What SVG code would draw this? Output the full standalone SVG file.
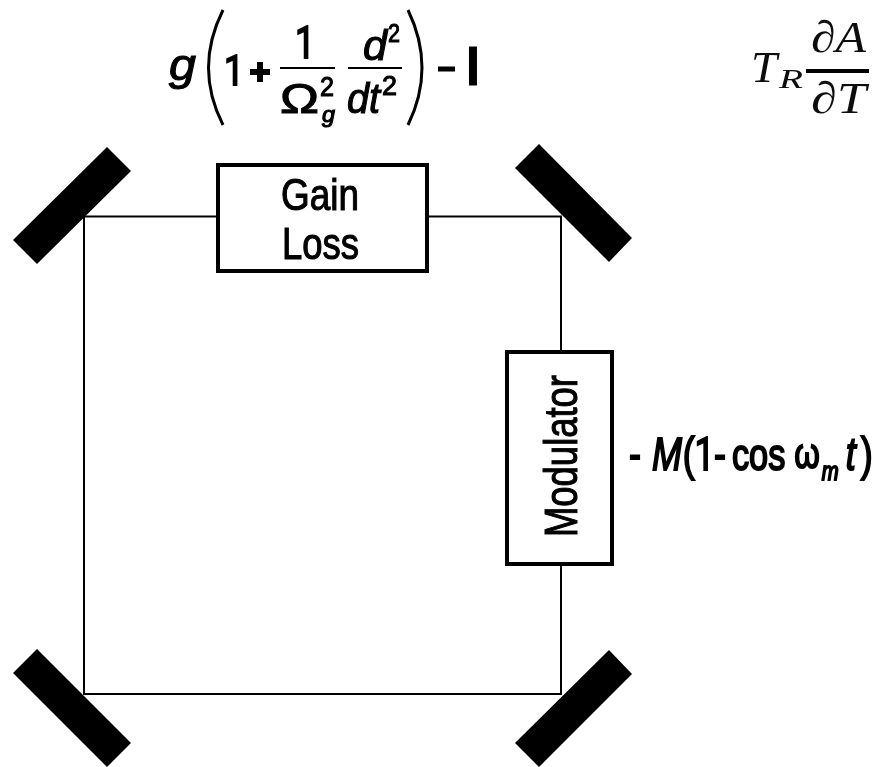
<svg xmlns="http://www.w3.org/2000/svg" width="876" height="767" viewBox="0 0 876 767">
<defs><filter id="soft" x="-5%" y="-5%" width="110%" height="110%"><feGaussianBlur stdDeviation="0.6"/></filter></defs>
<style>
.l{stroke:#000;stroke-width:2;fill:none}
.b{stroke:#000;stroke-width:4;fill:#fff}
.t{font-family:"Liberation Sans",Arial,sans-serif;fill:#000;stroke:#000;stroke-width:1.1;filter:url(#soft)}
.o{font-family:Roboto,"Liberation Sans",sans-serif;stroke-width:1.8}
.h{stroke-width:1.9}
.i{font-style:italic}
.m{fill:#000}
.n{fill:#000;stroke:none}
.s{font-family:"Liberation Serif","Times New Roman",serif;fill:#111;font-style:italic;filter:url(#soft)}
</style>
<rect width="876" height="767" fill="#fff"/>
<g id="connectors">
<path class="l" d="M84 216.500H218M428 216.500H561V351M561 565V694H84V216"/>
</g>
<g id="mirror-tl"><polygon class="m" points="107,147 131,171 37,264 13,240"/></g>
<g id="mirror-tr"><polygon class="m" points="539,144 632,238 609,262 515,168"/></g>
<g id="mirror-bl"><polygon class="m" points="37,649 131,743 107,767 13,673"/></g>
<g id="mirror-br"><polygon class="m" points="609,650 632,674 539,767 515,743"/></g>
<g id="gain-loss"><rect class="b" x="218" y="165" width="209" height="106"/>
<text class="t" x="281" y="210" font-size="44" textLength="78" lengthAdjust="spacingAndGlyphs">Gain</text>
<text class="t" x="282" y="259" font-size="44" textLength="77" lengthAdjust="spacingAndGlyphs">Loss</text></g>
<g id="modulator"><rect class="b" x="507" y="352" width="105" height="212"/>
<text class="t" transform="translate(577 537) rotate(-90)" font-size="46" textLength="162" lengthAdjust="spacingAndGlyphs">Modulator</text></g>
<g id="gain-formula">
<text class="t i" x="169" y="80" font-size="44" textLength="27" lengthAdjust="spacingAndGlyphs">g</text>
<path class="l" style="stroke-width:3" d="M223 10Q194 68 223 125M408 10Q436 68 408 125"/>
<text class="t o" x="224" y="85" font-size="43" textLength="20" lengthAdjust="spacingAndGlyphs">1</text>
<rect x="250" y="69" width="20" height="6" class="n"/>
<rect x="257" y="62" width="6" height="20" class="n"/>
<text class="t o" x="295" y="58" font-size="45" textLength="20" lengthAdjust="spacingAndGlyphs">1</text>
<rect x="280" y="67" width="55" height="2" class="n"/>
<text class="t" x="280" y="113" font-size="42" textLength="39" lengthAdjust="spacingAndGlyphs">Ω</text>
<text class="t" x="320" y="96" font-size="28" textLength="14" lengthAdjust="spacingAndGlyphs">2</text>
<text class="t i" x="322" y="122" font-size="22" textLength="13" lengthAdjust="spacingAndGlyphs">g</text>
<text class="t i" x="363" y="60" font-size="42" textLength="24" lengthAdjust="spacingAndGlyphs">d</text>
<text class="t" x="388" y="42" font-size="26" textLength="12" lengthAdjust="spacingAndGlyphs">2</text>
<rect x="348" y="67" width="54" height="2" class="n"/>
<text class="t i" x="347" y="113" font-size="42" textLength="33" lengthAdjust="spacingAndGlyphs">dt</text>
<text class="t" x="382" y="95" font-size="28" textLength="15" lengthAdjust="spacingAndGlyphs">2</text>
<rect x="438" y="66.500" width="17" height="5" class="n"/>
<text class="t" x="466" y="85" font-size="52" font-weight="bold" textLength="14" lengthAdjust="spacingAndGlyphs">l</text>
</g>
<g id="round-trip-formula" class="s">
<text x="751" y="82" font-size="45" textLength="26" lengthAdjust="spacingAndGlyphs">T</text>
<text x="779" y="88" font-size="28" textLength="24" lengthAdjust="spacingAndGlyphs">R</text>
<text x="811" y="52" font-size="45" textLength="55" lengthAdjust="spacingAndGlyphs">∂A</text>
<rect x="806" y="69" width="63" height="4" fill="#000"/>
<text x="811" y="113" font-size="45" textLength="55" lengthAdjust="spacingAndGlyphs">∂T</text>
</g>
<g id="modulator-formula">
<text class="t h" transform="translate(629 470) scale(.78 1)" font-size="46">-<tspan class="i" x="29.500" y="0">M</tspan><tspan x="69" y="0">(</tspan><tspan class="o" x="84" y="0">1</tspan><tspan x="109" y="0">-</tspan><tspan x="132" y="0" font-size="44">cos</tspan><tspan x="212" y="-2" font-size="42">ω</tspan><tspan class="i" x="247" y="10" font-size="26">m</tspan><tspan class="i" x="278" y="0">t</tspan><tspan x="297" y="0">)</tspan></text>
</g>
</svg>
